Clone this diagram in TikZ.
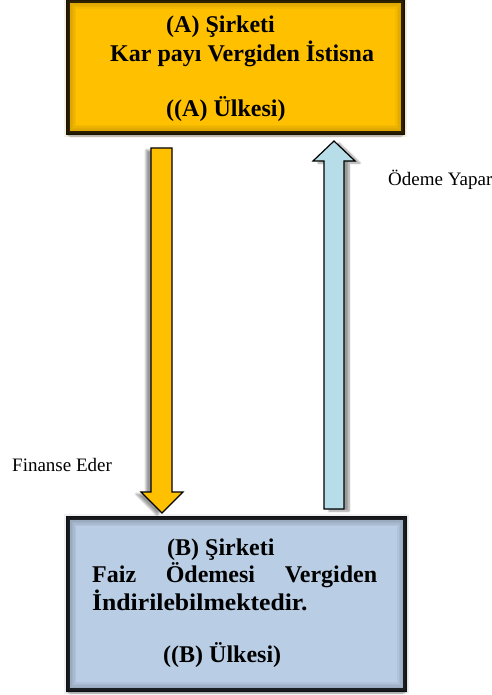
\documentclass[tikz,border=0pt]{standalone}
\usepackage{fontspec}
\setmainfont{Liberation Serif}
\usetikzlibrary{shadows.blur}
\definecolor{boxgold}{HTML}{FFC000}
\definecolor{boxsteel}{HTML}{B9CDE5}
\definecolor{arrowsky}{HTML}{B7DDE8}
\tikzset{
  x=1pt, y=-1pt,
  company/.style={draw=black, line width=4pt, blur shadow={shadow xshift=0pt, shadow yshift=-3pt, shadow blur steps=8, shadow blur extra rounding=2pt}},
  innerglow/.style={line width=#1, opacity=0.09},
  blockarrow/.style={draw=black, line width=1.2pt, line join=miter},
  boxtext/.style={font=\bfseries\fontsize{24}{28}\selectfont, inner sep=0pt, anchor=base west},
  flowlabel/.style={font=\fontsize{19}{22}\selectfont, inner sep=0pt, anchor=base west},
}
\begin{document}
\begin{tikzpicture}
\useasboundingbox (0,0) rectangle (491,695);

% upper company box
\path[company, fill=boxgold] (68,1) rectangle (403,133);
\foreach \w in {3,6,9,12}{
  \draw[innerglow=\w pt, draw=boxgold!60!black] (70,3) rectangle (401,131);
}
\node[draw=none, minimum width=335pt, minimum height=132pt, inner sep=0pt] (A) at (235.5,67) {};
\node[boxtext] (a1) at (166,33) {(A) Şirketi};
\node[boxtext] (a2) at (110,62) {Kar payı Vergiden İstisna};
\node[boxtext] (a3) at (166,117) {((A) Ülkesi)};

% lower company box
\path[company, fill=boxsteel] (68,518) rectangle (405,690);
\foreach \w in {3,6,9,12}{
  \draw[innerglow=\w pt, draw=boxsteel!50!black] (70,520) rectangle (403,688);
}
\node[draw=none, minimum width=337pt, minimum height=172pt, inner sep=0pt] (B) at (236.5,604) {};
\node[boxtext] (b1) at (167,555) {(B) Şirketi};
\node[boxtext] (b2) at (92,582) {\makebox[285pt][s]{Faiz Ödemesi Vergiden}};
\node[boxtext] (b3) at (92,610) {\scalebox{1.07}[1]{İndirilebilmektedir.}};
\node[boxtext] (b4) at (163,662) {((B) Ülkesi)};

% financing arrow, from A down to B
\path[blockarrow, fill=boxgold, blur shadow={shadow xshift=-5pt, shadow yshift=-2pt, shadow blur steps=8}]
  (151,148) -- (172,148) -- (172,492) -- (183,492) -- (162,513) -- (141,492) -- (151,492) -- cycle;
% payment arrow, from B up to A
\path[blockarrow, fill=arrowsky, blur shadow={shadow xshift=5pt, shadow yshift=-2pt, shadow blur steps=8}]
  (324,509) -- (344,509) -- (344,161) -- (355,161) -- (334,141) -- (313,161) -- (324,161) -- cycle;

\node[flowlabel] (fin) at (12,471) {Finanse Eder};
\node[flowlabel] (pay) at (388,185) {Ödeme Yapar};
\end{tikzpicture}
\end{document}
